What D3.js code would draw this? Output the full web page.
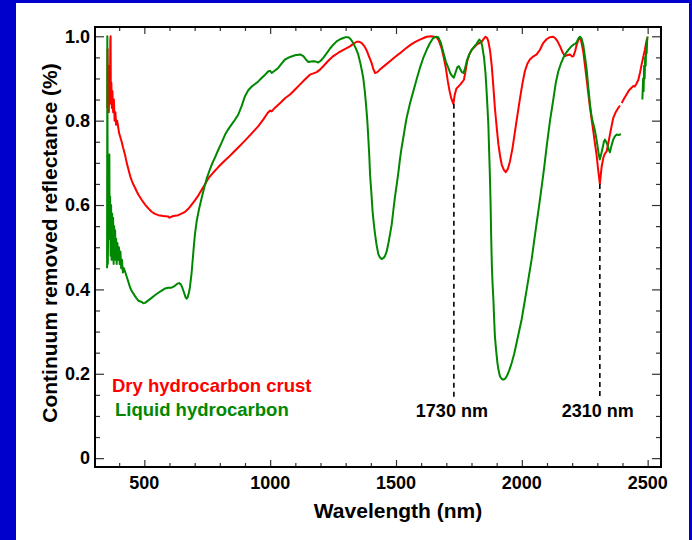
<!DOCTYPE html>
<html>
<head>
<meta charset="utf-8">
<script src="https://cdn.jsdelivr.net/npm/d3@7"></script>
<style>
  html, body { margin: 0; padding: 0; background: #0000cc; }
  svg { display: block; }
  text { font-family: "Liberation Sans", Arial, sans-serif; font-weight: bold; }
</style>
</head>
<body>
<svg id="chart" width="692" height="540"></svg>
<script>
// Dry hydrocarbon crust spectrum (wavelength in nm, continuum removed reflectance)
const redWavelength = [
  353,354,355,357,359,361,363,365,366,367,369,371,373,376,379,382,385,388,392,396,
  400,405,410,416,423,430,437,444,450,457,463,470,476,490,503,516,529,542,556,575,
  595,600,615,635,650,662,675,688,701,715,735,754,774,794,814,834,854,874,894,913,
  933,953,973,990,1000,1006,1015,1026,1042,1059,1079,1099,1119,1139,1158,1172,1185,1198,1211,1231,
  1251,1271,1291,1317,1330,1344,1355,1364,1375,1383,1393,1403,1410,1417,1426,1436,1456,1476,1496,1516,
  1536,1556,1575,1595,1610,1622,1640,1661,1670,1681,1690,1698,1706,1713,1720,1728,1733,1740,1756,1770,
  1777,1783,1792,1801,1820,1840,1848,1856,1862,1867,1874,1880,1887,1893,1900,1907,1914,1920,1928,1936,
  1944,1953,1963,1973,1983,1993,2003,2012,2022,2032,2045,2059,2072,2085,2098,2112,2125,2132,2142,2152,
  2162,2171,2180,2191,2200,2205,2212,2218,2225,2231,2237,2244,2250,2257,2264,2271,2278,2284,2290,2297,
  2303,2310,2317,2324,2330,2337,2344,2350,2357,2363,2373,2383,2390,2393,2397,2406,2416,2426,2436,2443,
  2449,2456,2463,2470,2476,2483,2489,2494,2498
];
const redReflectance = [
  0.83,0.97,0.86,0.90,0.82,0.93,0.85,0.99,1.00,0.84,0.89,0.83,0.87,0.82,0.85,0.80,0.82,0.79,0.80,0.785,
  0.77,0.76,0.75,0.735,0.72,0.70,0.684,0.668,0.658,0.648,0.641,0.632,0.625,0.612,0.601,0.592,0.584,0.579,0.576,0.574,
  0.573,0.570,0.574,0.576,0.580,0.584,0.591,0.601,0.611,0.623,0.643,0.663,0.677,0.690,0.702,0.713,0.725,0.737,0.749,0.761,
  0.774,0.787,0.803,0.818,0.824,0.822,0.828,0.834,0.843,0.853,0.862,0.874,0.886,0.898,0.909,0.912,0.915,0.921,0.929,0.942,
  0.953,0.961,0.968,0.976,0.982,0.987,0.987,0.984,0.976,0.967,0.952,0.937,0.922,0.913,0.915,0.921,0.931,0.941,0.951,0.960,
  0.970,0.979,0.986,0.992,0.996,0.999,1.000,0.998,0.990,0.972,0.949,0.925,0.893,0.870,0.852,0.840,0.860,0.876,0.886,0.897,
  0.920,0.941,0.958,0.968,0.980,0.987,0.993,0.999,0.996,0.988,0.965,0.933,0.880,0.830,0.785,0.743,0.715,0.696,0.684,0.678,
  0.685,0.704,0.735,0.775,0.815,0.854,0.890,0.917,0.935,0.945,0.952,0.957,0.968,0.984,0.993,0.998,0.999,0.996,0.988,0.976,
  0.962,0.953,0.955,0.957,0.952,0.953,0.965,0.980,0.992,0.998,0.985,0.964,0.935,0.901,0.865,0.830,0.800,0.775,0.748,0.719,
  0.685,0.650,0.690,0.712,0.722,0.727,0.748,0.767,0.788,0.806,0.820,0.830,0.836,null,0.842,0.852,0.862,0.872,0.878,0.882,
  0.881,0.888,0.897,0.915,0.933,0.952,0.968,0.985,0.996
];

// Liquid hydrocarbon spectrum
const greenWavelength = [
  352,353,354,355,357,359,361,362,364,366,368,370,372,374,376,378,380,382,384,386,
  388,390,393,396,399,402,405,408,411,415,419,423,430,436,443,450,457,463,470,477,
  490,496,503,516,529,542,556,569,582,595,608,620,630,638,645,651,658,664,668,672,
  677,681,688,695,701,708,718,728,738,748,758,768,781,794,808,821,834,847,860,873,
  887,900,913,927,940,953,966,980,993,1000,1006,1019,1032,1046,1059,1079,1099,1119,1132,1142,
  1152,1162,1171,1181,1191,1201,1211,1225,1238,1251,1264,1278,1291,1300,1311,1320,1330,1340,1350,1360,
  1370,1376,1381,1386,1390,1394,1397,1402,1407,1412,1417,1423,1430,1436,1443,1450,1456,1463,1470,1476,
  1483,1490,1496,1503,1510,1516,1522,1530,1536,1542,1556,1569,1582,1595,1608,1622,1635,1648,1660,1668,
  1678,1688,1698,1708,1716,1724,1730,1737,1744,1750,1756,1762,1768,1775,1781,1791,1801,1810,1820,1831,
  1838,1843,1850,1856,1860,1864,1867,1870,1873,1876,1878,1881,1884,1887,1890,1893,1898,1903,1908,1913,
  1920,1926,1933,1940,1950,1960,1970,1979,1989,1999,2009,2019,2029,2039,2049,2059,2069,2079,2089,2099,
  2112,2125,2135,2145,2155,2165,2175,2185,2195,2205,2212,2218,2225,2231,2237,2244,2250,2257,2264,2271,
  2276,2281,2286,2291,2296,2300,2305,2310,2315,2321,2326,2330,2335,2340,2345,2350,2356,2363,2370,2377,
  2385,2394,2430,2479,2482,2484,2486,2488,2490,2492,2494,2496,2498,2500
];
const greenReflectance = [
  0.45,1.00,0.70,0.46,0.60,0.55,0.72,0.52,0.62,0.48,0.60,0.47,0.58,0.50,0.57,0.46,0.55,0.49,0.54,0.47,
  0.52,0.46,0.51,0.47,0.50,0.46,0.49,0.45,0.47,0.44,0.45,0.443,0.43,0.419,0.405,0.396,0.39,0.384,0.378,0.373,
  0.370,0.367,0.368,0.374,0.380,0.386,0.392,0.397,0.402,0.404,0.404,0.408,0.413,0.415,0.412,0.404,0.392,0.381,0.378,0.381,
  0.392,0.404,0.44,0.49,0.53,0.562,0.592,0.617,0.641,0.663,0.680,0.696,0.713,0.731,0.749,0.767,0.780,0.791,0.802,0.814,
  0.835,0.858,0.872,0.881,0.887,0.893,0.901,0.909,0.917,0.918,0.913,0.919,0.925,0.936,0.945,0.951,0.955,0.957,0.953,0.945,
  0.939,0.940,0.941,0.940,0.938,0.942,0.949,0.960,0.971,0.980,0.988,0.993,0.996,0.998,0.998,0.993,0.984,0.972,0.957,0.932,
  0.901,0.87,0.838,0.80,0.759,0.715,0.672,0.63,0.585,0.555,0.530,0.505,0.483,0.476,0.472,0.474,0.479,0.490,0.51,0.53,
  0.554,0.59,0.62,0.649,0.68,0.71,0.735,0.763,0.785,0.806,0.842,0.870,0.898,0.925,0.948,0.968,0.984,0.996,0.999,0.998,
  0.985,0.962,0.940,0.925,0.912,0.905,0.902,0.915,0.927,0.929,0.921,0.915,0.913,0.925,0.941,0.957,0.968,0.975,0.982,0.992,
  0.988,0.975,0.949,0.910,0.870,0.825,0.791,0.73,0.672,0.600,0.53,0.455,0.41,0.376,0.33,0.289,0.255,0.226,0.207,0.194,
  0.188,0.186,0.188,0.194,0.208,0.226,0.248,0.273,0.30,0.328,0.363,0.399,0.435,0.471,0.515,0.558,0.60,0.644,0.690,0.74,
  0.80,0.85,0.89,0.917,0.935,0.949,0.96,0.968,0.975,0.980,0.982,0.986,0.995,0.999,0.995,0.980,0.955,0.925,0.88,0.838,
  0.815,0.799,0.788,0.775,0.758,0.743,0.722,0.708,0.72,0.735,0.750,0.755,0.750,0.743,0.732,0.725,0.740,0.755,0.763,0.767,
  0.766,0.768,null,0.850,0.90,0.87,0.93,0.90,0.95,0.93,0.97,0.96,0.99,1.00
];

const seriesNames = ["Dry hydrocarbon crust", "Liquid hydrocarbon"];
const seriesColors = ["#ff0000", "#008800"];

const xMajorTicks = [500, 1000, 1500, 2000, 2500];
const xMinorTicks = [400, 600, 700, 800, 900, 1100, 1200, 1300, 1400, 1600, 1700, 1800, 1900, 2100, 2200, 2300, 2400];
const yMajorTicks = [0, 0.2, 0.4, 0.6, 0.8, 1.0];
const yMinorTicks = [0.05, 0.1, 0.15, 0.25, 0.3, 0.35, 0.45, 0.5, 0.55, 0.65, 0.7, 0.75, 0.85, 0.9, 0.95];

const markerWavelengths = [1730, 2310];
const markerLabels = ["1730 nm", "2310 nm"];

const svg = d3.select("#chart");
const W = 692, H = 540;

// white panel inside the blue frame
svg.append("rect").attr("x", 16).attr("y", 3).attr("width", W - 16 - 3).attr("height", H - 3).attr("fill", "#ffffff");

const plot = { left: 95, right: 661, top: 27, bottom: 467 };
const x = d3.scaleLinear().domain([304, 2553]).range([plot.left, plot.right]);
const y = d3.scaleLinear().domain([-0.021, 1.022]).range([plot.bottom, plot.top]);

const g = svg.append("g");

// ticks on all four sides, pointing inward
function tickAxis(axisFn, scale, ticks, size, transform) {
  const ax = axisFn(scale).tickValues(ticks).tickSizeInner(-size).tickSizeOuter(0).tickFormat("");
  const sel = g.append("g").attr("transform", transform).call(ax);
  sel.select(".domain").remove();
  sel.selectAll(".tick line").attr("stroke", "#333").attr("stroke-width", 1.2);
  return sel;
}
tickAxis(d3.axisBottom, x, xMajorTicks, 7, `translate(0,${plot.bottom})`);
tickAxis(d3.axisBottom, x, xMinorTicks, 4, `translate(0,${plot.bottom})`);
tickAxis(d3.axisTop, x, xMajorTicks, 7, `translate(0,${plot.top})`);
tickAxis(d3.axisTop, x, xMinorTicks, 4, `translate(0,${plot.top})`);
tickAxis(d3.axisLeft, y, yMajorTicks, 9, `translate(${plot.left},0)`);
tickAxis(d3.axisLeft, y, yMinorTicks, 5, `translate(${plot.left},0)`);
tickAxis(d3.axisRight, y, yMajorTicks, 9, `translate(${plot.right},0)`);
tickAxis(d3.axisRight, y, yMinorTicks, 5, `translate(${plot.right},0)`);

// tick labels
g.selectAll("text.xlab").data(xMajorTicks).enter().append("text")
  .attr("class", "xlab")
  .attr("x", d => x(d)).attr("y", 489)
  .attr("text-anchor", "middle").attr("font-size", 18).attr("fill", "#000")
  .text(d => d);
g.selectAll("text.ylab").data(yMajorTicks).enter().append("text")
  .attr("class", "ylab")
  .attr("x", plot.left - 5).attr("y", d => y(d)).attr("dy", "0.35em")
  .attr("text-anchor", "end").attr("font-size", 18).attr("fill", "#000")
  .text(d => d === 0 ? "0" : d3.format(".1f")(d));

// axis titles
g.append("text").attr("x", 398).attr("y", 518).attr("text-anchor", "middle")
  .attr("font-size", 21).attr("fill", "#000").text("Wavelength (nm)");
g.append("text").attr("transform", `translate(57,243) rotate(-90)`).attr("text-anchor", "middle")
  .attr("font-size", 21).attr("fill", "#000").text("Continuum removed reflectance (%)");

// spectra
const clip = svg.append("clipPath").attr("id", "plotclip").append("rect")
  .attr("x", plot.left).attr("y", plot.top).attr("width", plot.right - plot.left).attr("height", plot.bottom - plot.top);

const line = d3.line().defined(d => d[1] != null).x(d => x(d[0])).y(d => y(d[1]));
const series = [
  d3.zip(redWavelength, redReflectance),
  d3.zip(greenWavelength, greenReflectance)
];
// draw liquid first, then crust on top where they overlap
g.append("path").datum(series[0]).attr("d", line).attr("fill", "none")
  .attr("stroke", seriesColors[0]).attr("stroke-width", 2).attr("stroke-linejoin", "round")
  .attr("clip-path", "url(#plotclip)");
g.append("path").datum(series[1]).attr("d", line).attr("fill", "none")
  .attr("stroke", seriesColors[1]).attr("stroke-width", 2).attr("stroke-linejoin", "round")
  .attr("clip-path", "url(#plotclip)");

// absorption feature markers
const markerBottom = 398;
markerWavelengths.forEach((wl, i) => {
  const idx = d3.minIndex(redWavelength, w => Math.abs(w - wl));
  const top = y(redReflectance[idx]);
  g.append("line").attr("x1", x(wl)).attr("x2", x(wl)).attr("y1", top).attr("y2", markerBottom)
    .attr("stroke", "#000").attr("stroke-width", 1.6).attr("stroke-dasharray", "5,4");
  g.append("text").attr("x", x(wl) - 2).attr("y", 417).attr("text-anchor", "middle")
    .attr("font-size", 18).attr("fill", "#000").text(markerLabels[i]);
});

// legend
g.append("text").attr("x", 112).attr("y", 392).attr("font-size", 18.5).attr("fill", seriesColors[0]).text(seriesNames[0]);
g.append("text").attr("x", 115).attr("y", 416).attr("font-size", 18.5).attr("fill", seriesColors[1]).text(seriesNames[1]);

// frame
g.append("rect").attr("x", plot.left).attr("y", plot.top)
  .attr("width", plot.right - plot.left).attr("height", plot.bottom - plot.top)
  .attr("fill", "none").attr("stroke", "#000").attr("stroke-width", 2);
</script>
</body>
</html>
